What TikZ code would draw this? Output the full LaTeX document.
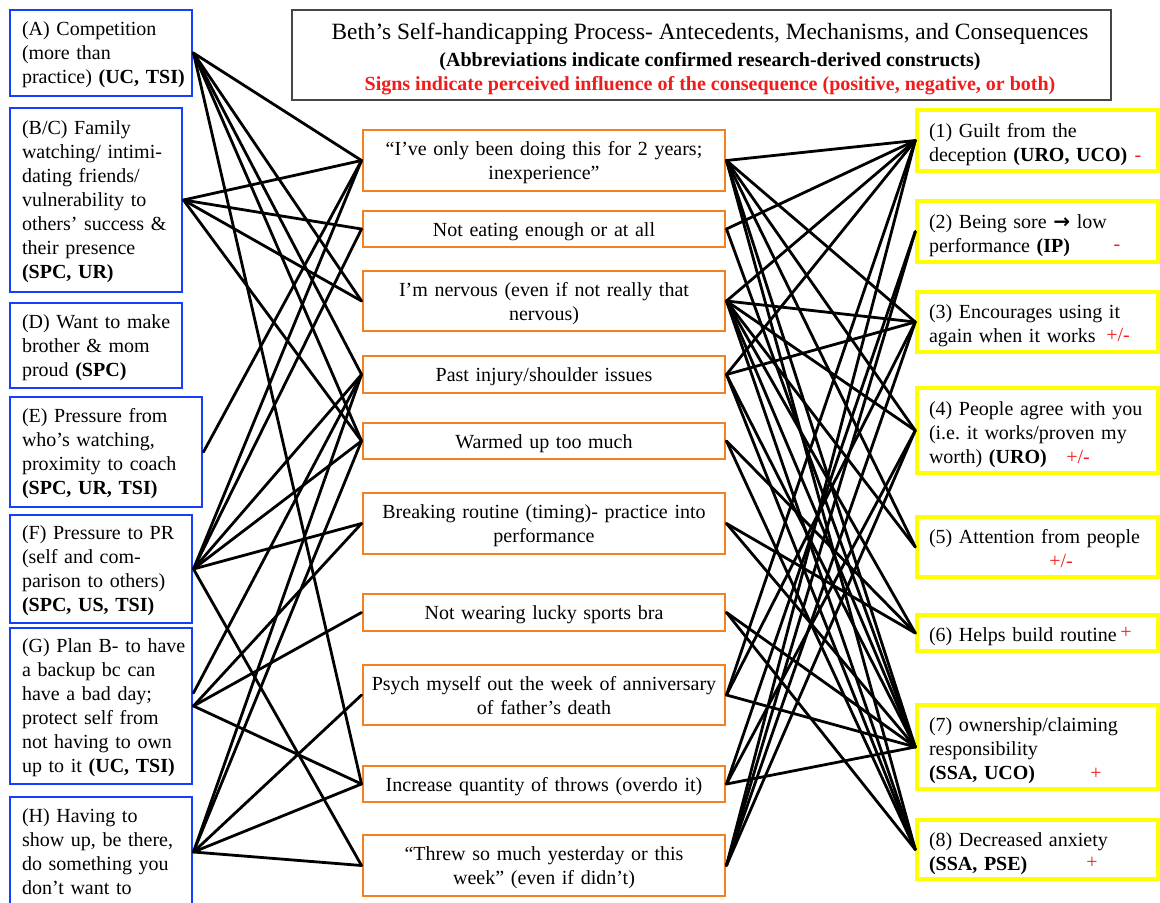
\documentclass[tikz,border=0pt]{standalone}
\usepackage{fontspec}
\setmainfont{Liberation Serif}
\newfontfamily\symfont{DejaVu Sans}
\definecolor{antblue}{RGB}{22,62,255}
\definecolor{mechorange}{RGB}{245,128,32}
\definecolor{consyellow}{RGB}{255,255,0}
\definecolor{signred}{RGB}{240,28,28}
\definecolor{framegray}{RGB}{70,70,70}
% lines of a box, never rewrapped; the optional pad lowers the block a little
\newcommand\txtlines[2][3pt]{\raisebox{0pt}[\dimexpr\height+#1\relax]{\begin{tabular}{@{}l@{}}#2\end{tabular}}}
\newcommand\txtcentre[2][3pt]{\raisebox{0pt}[\dimexpr\height+#1\relax]{\begin{tabular}{@{}c@{}}#2\end{tabular}}}
\begin{document}
\begin{tikzpicture}[x=0.75pt,y=-0.75pt,
  every node/.style={inner sep=0pt},
  % rectangle spanning (x1,y1)-(x2,y2), in pixel units
  region/.style n args={4}{minimum width={(#3-#1)*0.75pt}, minimum height={(#4-#2)*0.75pt},
                           at={({(#1+#3)/2},{(#2+#4)/2})}},
  body/.style={font=\fontsize{15}{18}\selectfont},
  antbox/.style={body, draw=antblue, line width=2.2pt, align=left},
  mechbox/.style={body, draw=mechorange, line width=2.2pt, align=center, text width=262.5pt},
  consbox/.style={body, draw=consyellow, line width=2.6pt, align=left, text width=162.75pt},
  sign/.style={body, text=signred, anchor=base},
  link/.style={line width=2.1pt, black, line cap=round},
]
\useasboundingbox (0,0) rectangle (1160,903);
\clip (0,0) rectangle (1160,903);

% heading
\node[draw=framegray, line width=1.1pt, region={292}{10}{1111}{100}] (T) {};
\node[align=center, body] (title) at (710,59)
  {{\fontsize{17.5}{20}\selectfont Beth’s Self-handicapping Process- Antecedents, Mechanisms, and Consequences}\\[2.5pt]
   {\fontsize{15}{18}\selectfont\bfseries (Abbreviations indicate confirmed research-derived constructs)}\\
   {\fontsize{15}{18}\selectfont\bfseries\color{signred} Signs indicate perceived influence of the consequence (positive, negative, or both)}};

% antecedents
\node[antbox, text width=118.5pt, region={10}{10}{192}{96}] (A)
  {\txtlines{(A) Competition\\(more than\\practice) \textbf{(UC, TSI)}}};
\node[antbox, text width=111pt, region={10}{108}{182}{292}] (BC)
  {\txtlines{(B/C) Family\\watching/ intimi-\\dating friends/\\vulnerability to\\others’ success \&\\their presence\\\textbf{(SPC, UR)}}};
\node[antbox, text width=111pt, region={10}{303}{182}{388}] (D)
  {\txtlines{(D) Want to make\\brother \& mom\\proud \textbf{(SPC)}}};
\node[antbox, text width=126pt, region={10}{397}{202}{507}] (E)
  {\txtlines{(E) Pressure from\\who’s watching,\\proximity to coach\\\textbf{(SPC, UR, TSI)}}};
\node[antbox, text width=118.5pt, region={10}{515}{192}{623}] (F)
  {\txtlines{(F) Pressure to PR\\(self and com-\\parison to others)\\\textbf{(SPC, US, TSI)}}};
\node[antbox, text width=118.5pt, region={10}{628}{192}{784}] (G)
  {\txtlines{(G) Plan B- to have\\a backup bc can\\have a bad day;\\protect self from\\not having to own\\up to it \textbf{(UC, TSI)}}};
\node[antbox, text width=118.5pt, region={10}{797}{192}{907}] (H)
  {\txtlines{(H) Having to\\show up, be there,\\do something you\\don’t want to}};
\coordinate (G1) at ([yshift=9.75pt]G.east);

% mechanisms
\node[mechbox, region={363}{130}{725}{191}] (M1) {\txtcentre[4pt]{“I’ve only been doing this for 2 years;\\inexperience”}};
\node[mechbox, region={363}{211}{725}{247}] (M2) {\txtcentre[4pt]{Not eating enough or at all}};
\node[mechbox, region={363}{271}{725}{331}] (M3) {\txtcentre[4pt]{I’m nervous (even if not really that\\nervous)}};
\node[mechbox, region={363}{356}{725}{393}] (M4) {\txtcentre[4pt]{Past injury/shoulder issues}};
\node[mechbox, region={363}{423}{725}{459}] (M5) {\txtcentre[4pt]{Warmed up too much}};
\node[mechbox, region={363}{493}{725}{554}] (M6) {\txtcentre[4pt]{Breaking routine (timing)- practice into\\performance}};
\node[mechbox, region={363}{594}{725}{631}] (M7) {\txtcentre[4pt]{Not wearing lucky sports bra}};
\node[mechbox, region={363}{665}{725}{725}] (M8) {\txtcentre[4pt]{Psych myself out the week of anniversary\\of father’s death}};
\node[mechbox, region={363}{766}{725}{802}] (M9) {\txtcentre[4pt]{Increase quantity of throws (overdo it)}};
\node[mechbox, region={363}{835}{725}{896}] (M10) {\txtcentre[4pt]{“Threw so much yesterday or this\\week” (even if didn’t)}};

% consequences
\node[consbox, region={917}{110}{1158}{171}] (C1) {\txtlines[6pt]{(1) Guilt from the\\deception \textbf{(URO, UCO)}}};
\node[consbox, region={917}{201}{1158}{262}] (C2) {\txtlines[6pt]{(2) Being sore {\symfont\bfseries →} low\\performance \textbf{(IP)}}};
\node[consbox, region={917}{292}{1158}{352}] (C3) {\txtlines[6pt]{(3) Encourages using it\\again when it works}};
\node[consbox, region={917}{388}{1158}{473}] (C4) {\txtlines[6pt]{(4) People agree with you\\(i.e.\ it works/proven my\\worth) \textbf{(URO)}}};
\node[consbox, region={917}{517}{1158}{577}] (C5) {\txtlines[6pt]{(5) Attention from people\\\mbox{}}};
\node[consbox, region={917}{615}{1158}{651}] (C6) {\txtlines[6pt]{(6) Helps build routine}};
\node[consbox, region={917}{705}{1158}{789}] (C7) {\txtlines[6pt]{(7) ownership/claiming\\responsibility\\\textbf{(SSA, UCO)}}};
\node[consbox, region={917}{820}{1158}{879}] (C8) {\txtlines[6pt]{(8) Decreased anxiety\\\textbf{(SSA, PSE)}}};

% perceived influence signs
\node[sign] (s1) at (1138,161) {-};
\node[sign] (s2) at (1117,250) {-};
\node[sign] (s3) at (1118,341) {+/-};
\node[sign] (s4) at (1078,463) {+/-};
\node[sign] (s5) at (1061,567) {+/-};
\node[sign] (s6) at (1126,638) {+};
\node[sign] (s7) at (1096,779) {+};
\node[sign] (s8) at (1092,868) {+};

% antecedents -> mechanisms
\foreach \a/\m in {A/M1, A/M3, A/M4, A/M5, A/M9,
                   BC/M1, BC/M2, BC/M3, BC/M5,
                   E/M1,
                   F/M1, F/M2, F/M4, F/M5, F/M6, F/M10,
                   G/M6, G/M7, G/M9,
                   H/M4, H/M5, H/M8, H/M9, H/M10}
  \draw[link] (\a.east) -- (\m.west);
\draw[link] (G1) -- (M4.west);

% mechanisms -> consequences
\foreach \m/\c in {M1/C1, M1/C3, M1/C4, M1/C5, M1/C7, M1/C8,
                   M2/C1, M2/C7,
                   M3/C1, M3/C3, M3/C4, M3/C5, M3/C6, M3/C7, M3/C8,
                   M4/C1, M4/C3, M4/C7, M4/C8,
                   M5/C6, M5/C8,
                   M6/C6, M6/C7,
                   M7/C7, M7/C8,
                   M8/C7, M8/C1, M8/C3,
                   M9/C7, M9/C2, M9/C4,
                   M10/C1, M10/C2, M10/C3, M10/C4}
  \draw[link] (\m.east) -- (\c.west);
\end{tikzpicture}
\end{document}
